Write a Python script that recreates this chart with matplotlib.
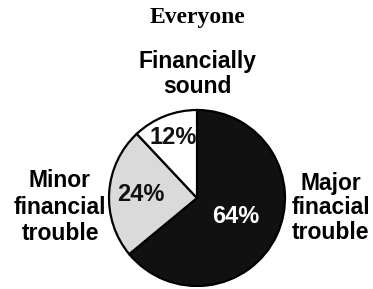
import numpy as np
import matplotlib.pyplot as plt

# data
labels = ['Major\nfinacial\ntrouble', 'Minor\nfinancial\ntrouble', 'Financially\nsound']
shares = [64, 24, 12]
colors = ['#111111', '#dadada', '#ffffff']
pct_colors = ['white', '#111111', '#111111']

W, H = 373, 289
fig = plt.figure(figsize=(W / 100, H / 100), dpi=100)

# pie centred at pixel (197, 198), radius about 88 px
cx, cy, rpx = 197, 198, 88
half = 90
ax = fig.add_axes([(cx - half) / W, (H - cy - half) / H, 2 * half / W, 2 * half / H])

wedges, _ = ax.pie(shares, colors=colors, startangle=90, counterclock=False,
                   radius=1, wedgeprops=dict(edgecolor='black', linewidth=1.6))
for w in wedges:
    w.set_clip_on(False)

lim = half / rpx
ax.set_xlim(-lim, lim)
ax.set_ylim(-lim, lim)
ax.set_aspect('equal')
ax.axis('off')

# percentage labels at the middle angle of each wedge
dists = [0.49, 0.64, 0.74]
for w, s, d, c in zip(wedges, shares, dists, pct_colors):
    mid = np.deg2rad((w.theta1 + w.theta2) / 2)
    ax.text(d * np.cos(mid), d * np.sin(mid), '%d%%' % s, ha='center', va='center',
            color=c, fontsize=17, family='Liberation Sans', fontweight='bold')

# title and outside labels
fig.text(197 / W, 1 - 17 / H, 'Everyone', ha='center', va='center',
         family='Liberation Serif', fontweight='bold', fontsize=17)
fig.text(197 / W, 1 - 74 / H, labels[2], ha='center', va='center',
         family='Liberation Sans', fontweight='bold', fontsize=16.5, linespacing=1.15)
fig.text(60 / W, 1 - 207 / H, labels[1], ha='center', va='center',
         family='Liberation Sans', fontweight='bold', fontsize=16.5, linespacing=1.2)
fig.text(331 / W, 1 - 208 / H, labels[0], ha='center', va='center',
         family='Liberation Sans', fontweight='bold', fontsize=16.5, linespacing=1.1)

fig.savefig('out.png', dpi=100)
